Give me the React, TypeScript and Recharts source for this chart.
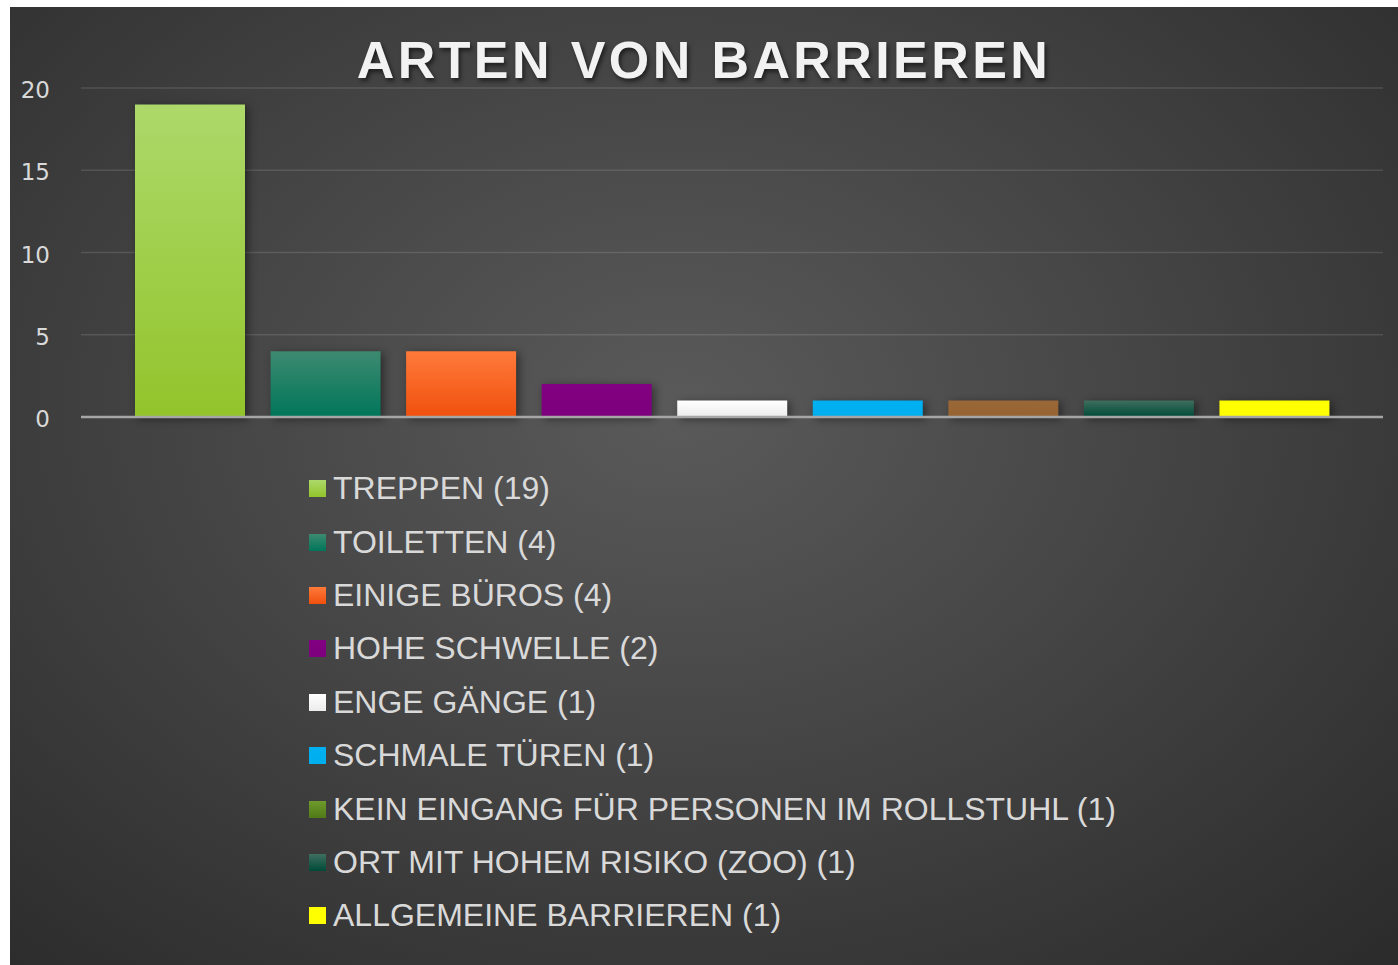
import React from "react";
import { BarChart, Bar, XAxis, YAxis, CartesianGrid, Legend, ReferenceLine, Cell } from "recharts";

const categories = [
  "TREPPEN",
  "TOILETTEN",
  "EINIGE BÜROS",
  "HOHE SCHWELLE",
  "ENGE GÄNGE",
  "SCHMALE TÜREN",
  "KEIN EINGANG FÜR PERSONEN IM ROLLSTUHL",
  "ORT MIT HOHEM RISIKO (ZOO)",
  "ALLGEMEINE BARRIEREN",
];
const counts = [19, 4, 4, 2, 1, 1, 1, 1, 1];
const yTicks = [0, 5, 10, 15, 20];

// bar fills: [top, bottom]
const barColors: [string, string][] = [
  ["#acd96a", "#93c42b"],
  ["#3d8a70", "#00765a"],
  ["#ff7a3a", "#f0500e"],
  ["#820082", "#7d007d"],
  ["#ffffff", "#ececec"],
  ["#00b0f0", "#00aeee"],
  ["#9a6836", "#966433"],
  ["#3e6e5e", "#004a38"],
  ["#ffff00", "#ffff00"],
];
// legend swatches (the 7th differs from its bar in the original)
const legendColors: [string, string][] = [
  ["#acd96a", "#93c42b"],
  ["#3d8a70", "#00765a"],
  ["#ff7a3a", "#f0500e"],
  ["#820082", "#7d007d"],
  ["#ffffff", "#ececec"],
  ["#00b0f0", "#00aeee"],
  ["#6f9a2c", "#4f7a18"],
  ["#3e6e5e", "#004a38"],
  ["#ffff00", "#ffff00"],
];

const data = categories.map((name, i) => ({ name, value: counts[i] }));

const W = 1388;
const H = 958;

function LegendList() {
  return (
    <div style={{ fontFamily: "'Liberation Sans', Arial, sans-serif", fontSize: 32, color: "#d9d9d9" }}>
      {categories.map((c, i) => (
        <div key={c} style={{ height: 53.4, display: "flex", alignItems: "center", whiteSpace: "nowrap" }}>
          <span
            style={{
              display: "inline-block",
              width: 17,
              height: 17,
              marginRight: 7,
              background: `linear-gradient(${legendColors[i][0]}, ${legendColors[i][1]})`,
            }}
          />
          {`${c} (${counts[i]})`}
        </div>
      ))}
    </div>
  );
}

export default function App() {
  return (
    <div
      style={{
        position: "absolute",
        left: 10,
        top: 7,
        width: W,
        height: H,
        background: "radial-gradient(ellipse 75% 80% at 48% 42%, #5a5a5a 0%, #4a4a4a 35%, #2b2b2b 100%)",
        overflow: "hidden",
      }}
    >
      <div
        style={{
          position: "absolute",
          left: 0,
          width: W,
          top: 23,
          textAlign: "center",
          fontFamily: "'Liberation Sans', Arial, sans-serif",
          fontWeight: 700,
          fontSize: 52,
          letterSpacing: 3.4,
          color: "#f2f2f2",
          textShadow: "2px 3px 4px rgba(0,0,0,0.55)",
          lineHeight: "60px",
        }}
      >
        ARTEN VON BARRIEREN
      </div>
      <BarChart width={W} height={H} data={data} margin={{ top: 81, right: 15, left: 11, bottom: 548 }}>
        <defs>
          {barColors.map((c, i) => (
            <linearGradient key={i} id={`bg${i}`} x1="0" y1="0" x2="0" y2="1">
              <stop offset="0%" stopColor={c[0]} />
              <stop offset="100%" stopColor={c[1]} />
            </linearGradient>
          ))}
        </defs>
        <CartesianGrid vertical={false} stroke="rgba(255,255,255,0.12)" strokeWidth={1.5} />
        <XAxis dataKey="name" hide padding={{ left: 41, right: 41 }} />
        <YAxis
          width={60}
          domain={[0, 20]}
          ticks={yTicks}
          axisLine={false}
          tickLine={false}
          tickSize={0}
          tickMargin={31}
          tick={{ fill: "#d9d9d9", fontSize: 23, fontFamily: "'DejaVu Sans', sans-serif", dy: 2 }}
        />
        <Bar
          dataKey="value"
          barSize={110}
          isAnimationActive={false}
          style={{ filter: "drop-shadow(3px 2px 4px rgba(0,0,0,0.45))" }}
        >
          {data.map((d, i) => (
            <Cell key={d.name} fill={`url(#bg${i})`} />
          ))}
        </Bar>
        <ReferenceLine y={0} stroke="#a6a6a6" strokeWidth={2.5} />
        <Legend
          layout="vertical"
          align="center"
          verticalAlign="middle"
          content={() => <LegendList />}
          wrapperStyle={{ left: 299, top: 455, width: 900 }}
        />
      </BarChart>
    </div>
  );
}
